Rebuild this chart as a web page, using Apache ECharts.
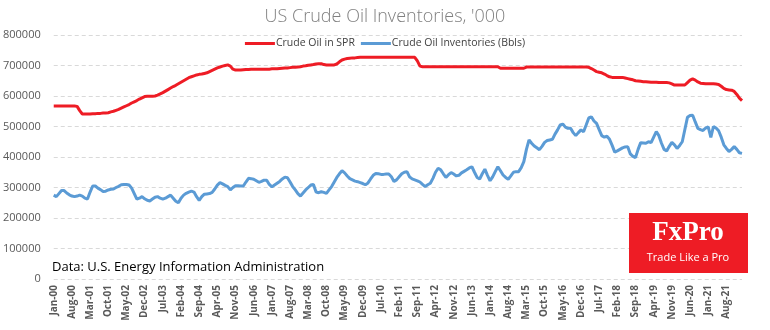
<!DOCTYPE html>
<html><head><meta charset="utf-8">
<script src="https://cdn.jsdelivr.net/npm/echarts@6/dist/echarts.min.js"></script>
<style>html,body{margin:0;padding:0;background:#fff}#c{width:770px;height:330px}</style>
</head><body><div id="c"></div>
<script>
// Monthly categories Jan-2000 .. Feb-2022
const monthNames = ['Jan','Feb','Mar','Apr','May','Jun','Jul','Aug','Sep','Oct','Nov','Dec'];
const categories = [];
for (let y = 2000; y <= 2022; y++) {
  for (let m = 0; m < 12; m++) {
    if (y === 2022 && m > 1) break;
    categories.push(monthNames[m] + '-' + String(y % 100).padStart(2, '0'));
  }
}
// Crude Oil in SPR ('000 bbl)
const sprValues = [
567,567,567,567,567,567,567,567,567,566,552,541,
541,541,541,542,542,543,543,544,544,545,548,550,
553,556,560,564,568,572,577,581,585,590,594,598,
599,599,599,600,603,607,611,616,621,626,631,635,
640,645,650,655,660,663,666,669,671,672,674,676,
680,684,688,692,695,698,700,702,698,688,685,685,
685,686,687,687,688,688,688,688,688,688,688,688,
689,689,689,690,691,692,692,693,694,694,695,696,
698,699,701,702,703,705,706,706,703,702,702,702,
702,705,712,718,721,723,724,725,725,726,727,727,
727,727,727,727,727,727,727,727,727,727,727,727,
727,727,727,727,727,727,727,727,715,698,696,696,
696,696,696,696,696,696,696,696,696,696,696,696,
696,696,696,696,696,696,696,696,696,696,696,696,
696,696,696,696,691,691,691,691,691,691,691,691,
691,691,695,695,695,695,695,695,695,695,695,695,
695,695,695,695,695,695,695,695,695,695,695,695,
695,695,694,690,685,680,678,676,672,667,663,661,
661,661,661,661,659,657,655,653,650,649,648,647,
647,646,645,645,645,644,644,644,644,643,640,636,
636,636,636,636,644,652,656,652,646,642,641,640,
640,640,640,639,638,632,625,621,620,619,615,605,
593,585
];
// Crude Oil Inventories excl. SPR ('000 bbl)
const invValues = [
275,270,280,290,290,282,276,272,270,272,275,272,
265,262,285,305,305,298,293,287,288,292,294,295,
300,304,309,310,310,308,298,280,262,265,270,263,
258,256,262,268,270,265,262,265,270,275,265,255,
250,265,275,281,285,288,285,270,258,270,278,279,
280,284,295,308,316,312,307,303,292,300,306,306,
305,305,318,330,329,327,322,317,320,324,324,310,
302,308,314,320,328,334,332,318,303,292,280,272,
282,292,300,308,310,285,283,286,284,281,292,303,
318,333,345,355,348,338,329,325,321,319,316,313,
309,315,328,340,346,345,343,343,344,344,335,320,
325,335,345,350,352,335,328,325,322,318,310,303,
309,314,330,350,363,358,345,333,342,349,344,338,
340,348,353,358,364,368,350,333,328,345,360,340,
322,335,352,368,355,341,333,327,338,350,352,352,
365,385,425,456,445,436,430,424,435,448,454,456,
458,475,489,505,508,498,494,494,480,470,480,489,
483,505,528,532,518,510,490,470,465,468,458,438,
416,420,425,430,433,434,410,402,398,425,447,446,
445,450,447,465,483,470,445,425,420,435,448,440,
428,438,450,490,530,536,537,515,494,490,487,495,
499,464,500,495,486,465,440,428,418,425,434,425,
414,412
];
const yTicks = [0,100000,200000,300000,400000,500000,600000,700000,800000];
const toBbl = a => a.map(v => v * 1000);

const chart = echarts.init(document.getElementById('c'), null, {renderer: 'canvas'});
const font = "'Open Sans', sans-serif";
chart.setOption({
  animation: false,
  backgroundColor: '#ffffff',
  title: {
    text: "US Crude Oil Inventories, '000",
    left: 'center', top: 3,
    textStyle: {fontFamily: font, fontWeight: 300, fontSize: 18, color: '#808080'}
  },
  legend: {
    top: 33, left: 'center',
    itemWidth: 30, itemHeight: 3, itemGap: 6,
    icon: 'rect',
    textStyle: {fontFamily: font, fontSize: 10.5, color: '#404040', padding: [0,0,0,-4]},
    data: ['Crude Oil in SPR', 'Crude Oil Inventories (Bbls)']
  },
  grid: {left: 52, right: 28, top: 35, bottom: 51, containLabel: false},
  xAxis: {
    type: 'category', data: categories, boundaryGap: false,
    axisLine: {show: false}, axisTick: {show: false},
    axisLabel: {interval: 6, rotate: 90, fontFamily: font, fontWeight: 'bold', fontSize: 10, color: '#595959', margin: 6}
  },
  yAxis: {
    type: 'value', min: yTicks[0], max: yTicks[yTicks.length-1], interval: 100000,
    axisLine: {show: false}, axisTick: {show: false},
    axisLabel: {fontFamily: font, fontSize: 11, color: '#595959', margin: 13, formatter: v => String(v)},
    splitLine: {lineStyle: {type: [4,3], color: '#d9d9d9', width: 1}}
  },
  series: [
    {name: 'Crude Oil in SPR', type: 'line', data: toBbl(sprValues), showSymbol: false, smooth: false,
     lineStyle: {color: '#ee1c25', width: 3}, itemStyle: {color: '#ee1c25'}},
    {name: 'Crude Oil Inventories (Bbls)', type: 'line', data: toBbl(invValues), showSymbol: false,
     lineStyle: {color: '#5b9bd5', width: 3}, itemStyle: {color: '#5b9bd5'}}
  ],
  graphic: [
    {type: 'text', z: 100, left: 52, top: 261, style: {text: 'Data: U.S. Energy Information Administration', font: "13px 'Open Sans', sans-serif", fill: '#000'}},
    {type: 'rect', z: 100, left: 629, top: 213, shape: {width: 119, height: 60}, style: {fill: '#ee1c25'}},
    {type: 'text', z: 101, x: 688, y: 233, style: {text: 'FxPro', font: "bold 27px 'Liberation Serif', serif", fill: '#fff', align: 'center', verticalAlign: 'middle'}},
    {type: 'text', z: 101, x: 688, y: 258, style: {text: 'Trade Like a Pro', font: "11px 'Open Sans', sans-serif", fill: '#fff', align: 'center', verticalAlign: 'middle'}}
  ]
});
</script></body></html>
